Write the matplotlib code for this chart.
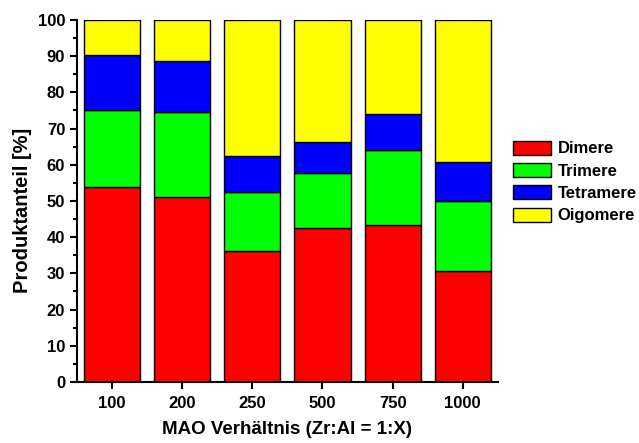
import matplotlib.pyplot as plt
from matplotlib.ticker import MultipleLocator

plt.rcParams['font.family'] = ['Liberation Sans', 'DejaVu Sans']
plt.rcParams['font.weight'] = 'bold'

categories = ['100', '200', '250', '500', '750', '1000']
dimere = [53.8, 51.2, 36.2, 42.5, 43.3, 30.6]
trimere = [21.3, 23.3, 16.2, 15.3, 20.8, 19.4]
tetramere = [15.1, 14.2, 10.0, 8.6, 9.8, 10.9]
oligomere = [9.8, 11.3, 37.6, 33.6, 26.1, 39.1]

series = [dimere, trimere, tetramere, oligomere]
names = ['Dimere', 'Trimere', 'Tetramere', 'Oigomere']
colors = ['#ff0000', '#00ff00', '#0000ff', '#ffff00']

fig = plt.figure(figsize=(6.39, 4.43), dpi=100)
ax = fig.add_axes([0.1205, 0.1377, 0.6585, 0.8172])

x = list(range(len(categories)))
bottom = [0] * len(categories)
for vals, name, col in zip(series, names, colors):
    ax.bar(x, vals, width=0.8, bottom=bottom, color=col, edgecolor='black',
           linewidth=1.0, label=name)
    bottom = [b + v for b, v in zip(bottom, vals)]

ax.set_xlim(-0.5, 5.5)
ax.set_ylim(0, 100)
ax.set_xticks(x)
ax.set_xticklabels(categories)
ax.yaxis.set_major_locator(MultipleLocator(10))
ax.yaxis.set_minor_locator(MultipleLocator(5))
ax.spines['top'].set_visible(False)
ax.spines['right'].set_visible(False)
for s in ['left', 'bottom']:
    ax.spines[s].set_linewidth(1.5)
ax.tick_params(axis='both', which='major', direction='out', length=5, width=1.5,
               labelsize=12)
ax.tick_params(axis='y', which='minor', direction='out', length=3, width=1.5)
ax.tick_params(axis='x', pad=5)

ax.set_xlabel('MAO Verhältnis (Zr:Al = 1:X)', fontsize=13.5, fontweight='bold', labelpad=7)
ax.set_ylabel('Produktanteil [%]', fontsize=14.5, fontweight='bold')
ax.yaxis.set_label_coords(-0.108, 0.475)

leg = ax.legend(loc='center left', bbox_to_anchor=(1.02, 0.552), frameon=False,
                fontsize=12, handlelength=2.3, handleheight=0.9,
                labelspacing=0.4, handletextpad=0.4, borderaxespad=0)
for t in leg.get_texts():
    t.set_fontweight('bold')

fig.savefig('out.png', dpi=100)
